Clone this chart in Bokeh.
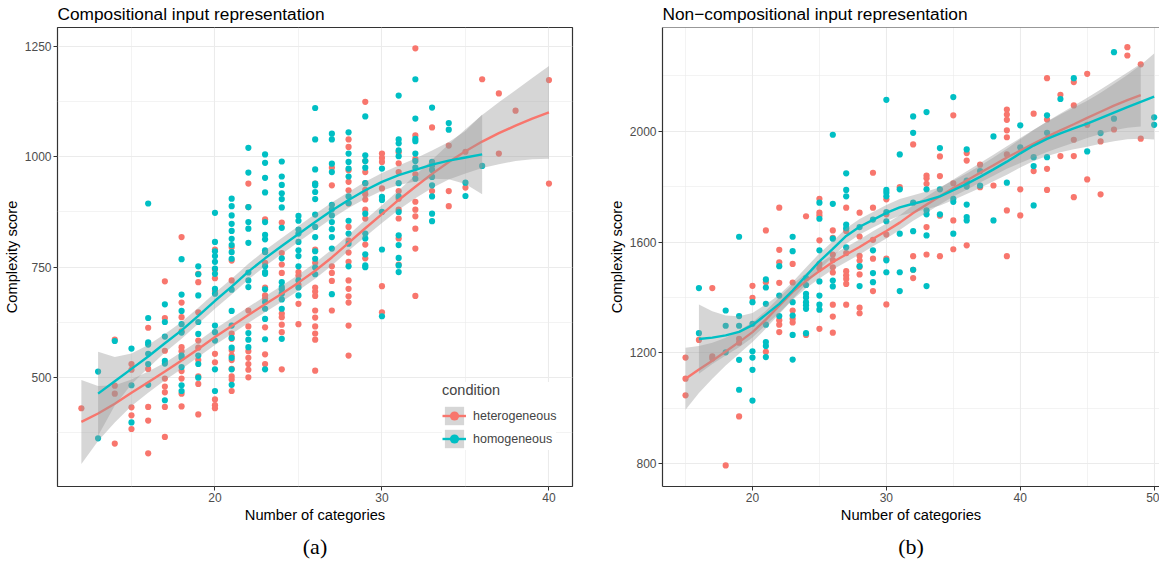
import numpy as np
from bokeh.plotting import figure
from bokeh.models import (FixedTicker, Legend, LegendItem, Range1d, Span, Title)
from bokeh.layouts import row
from bokeh.embed import file_html
from bokeh.resources import INLINE

RED = "#F8766D"
TEAL = "#00BFC4"
RIBBON = "#999999"
FONT = "Liberation Sans"

# ---------------- Panel (a): Compositional input representation ----------------
comp_het = {
    12: [431],
    14: [586, 482, 464, 351],
    15: [531, 518, 433, 415, 384],
    16: [613, 520, 434, 403, 329],
    17: [718, 635, 561, 498, 480, 467, 434, 366],
    18: [818, 670, 637, 605, 569, 560, 515, 498, 464, 435],
    19: [735, 716, 648, 584, 568, 540, 503, 486, 417],
    20: [790, 745, 725, 696, 554, 535, 451, 438, 431],
    21: [795, 765, 720, 600, 588, 562, 550, 540, 520, 503, 496, 470],
    22: [939, 886, 652, 616, 560, 545, 531, 518, 501],
    23: [858, 760, 704, 686, 679, 614, 553, 531],
    24: [851, 782, 756, 737, 645, 637, 620, 603, 519],
    25: [739, 731, 710, 667, 621],
    26: [939, 790, 760, 704, 695, 685, 652, 636, 616, 600, 586, 516],
    27: [975, 935, 752, 737, 719, 652],
    28: [1039, 1022, 969, 943, 924, 894, 841, 810, 783, 762, 720, 701, 684, 670, 618, 550],
    29: [1124, 990, 965, 940, 925, 915, 903, 880, 860, 801, 770],
    30: [1007, 997, 988, 928, 707, 648],
    31: [1010, 985, 965, 922, 905, 880, 860, 815, 756],
    32: [1245, 1048, 995, 960, 898, 880, 865, 837, 792, 685],
    33: [1066, 922],
    34: [1025, 922, 888],
    35: [1011, 930],
    36: [1175],
    37: [1143, 1007],
    38: [1104],
    40: [1173, 939],
}
comp_hom = {
    13: [514, 363],
    14: [583],
    15: [566, 483, 399],
    16: [894, 635, 580, 575, 554, 531, 484],
    17: [666, 626, 593, 538, 532, 449],
    18: [768, 688, 651, 621, 602, 550, 545, 524, 483, 470],
    19: [752, 734, 686, 626, 599, 550, 531, 500],
    20: [873, 807, 786, 775, 762, 747, 735, 701, 690, 618, 603, 584, 519, 470],
    21: [905, 888, 867, 848, 832, 814, 800, 784, 769, 699, 651, 618, 590, 568, 545, 519, 484],
    22: [1020, 964, 886, 852, 837, 805, 738, 720, 705, 601, 586, 569],
    23: [1005, 986, 952, 919, 852, 823, 813, 788, 784, 752, 739, 735, 700, 671, 656, 633, 587, 519],
    24: [989, 955, 936, 917, 904, 885, 839, 770, 716, 705, 700, 690, 677, 656, 588],
    25: [866, 855, 835, 826, 807, 788, 775, 752, 720, 704, 686],
    26: [1110, 1039, 971, 939, 935, 920, 904, 869, 841, 818, 786, 769, 749, 734],
    27: [1052, 1039, 984, 965, 891, 881, 867, 852, 836, 818, 792, 689],
    28: [1055, 1007, 988, 973, 955, 910, 895, 855, 826, 803, 752],
    29: [1091, 1003, 990, 975, 940, 871, 826, 815, 779, 754, 750],
    30: [973, 909, 902, 875, 790, 639],
    31: [1138, 1039, 1030, 1014, 1001, 940, 910, 875, 822, 800, 771, 754, 739],
    32: [1175, 1086, 1040, 1035, 1007, 990, 975, 950],
    33: [1111, 988, 980, 970, 954, 935, 910, 871, 854],
    34: [1076, 1061],
    35: [941, 911],
    36: [979],
}
# loess fits and half-width of the confidence band
comp_het_fit_x = list(range(12, 41))
comp_het_fit = [400, 419, 441, 466, 490, 514, 539, 565, 592, 617, 642, 666, 690, 715,
                742, 772, 805, 838, 870, 902, 932, 961, 988, 1012, 1034, 1053, 1070, 1086, 1100]
comp_het_hw = [95, 62, 42, 30, 24, 20, 19, 18, 18, 18, 18, 18, 18, 18, 18, 18, 18, 19,
               20, 22, 26, 32, 40, 50, 60, 70, 80, 92, 105]
comp_hom_fit_x = list(range(13, 37))
comp_hom_fit = [464, 492, 520, 548, 578, 607, 640, 674, 706, 740, 770, 798, 825, 852,
                878, 902, 924, 943, 958, 970, 982, 991, 998, 1005]
comp_hom_hw = [95, 55, 35, 26, 21, 19, 18, 18, 18, 18, 18, 18, 18, 18, 18, 18, 19, 20,
               22, 26, 32, 42, 60, 90]

# ---------------- Panel (b): Non-compositional input representation ----------------
noncomp_het = {
    15: [1183, 1107, 1047],
    16: [1247],
    17: [1434, 1188, 1180],
    18: [794],
    19: [1251, 1237, 971],
    20: [1442, 1399],
    21: [1642, 1455, 1204],
    22: [1724, 1572, 1527, 1453, 1318, 1302, 1275],
    23: [1521, 1454, 1353, 1323, 1310],
    24: [1693, 1265],
    25: [1756, 1706, 1695, 1606, 1521, 1505, 1287],
    26: [1642, 1615, 1555, 1535, 1509, 1490, 1374, 1331, 1273],
    27: [1724, 1640, 1560, 1495, 1480, 1467, 1449, 1374],
    28: [1706, 1620, 1550, 1533, 1510, 1483, 1363, 1343],
    29: [1850, 1724, 1608, 1540, 1423],
    30: [1754, 1700, 1627, 1540, 1375],
    31: [1798],
    32: [1952, 1549, 1500, 1470],
    33: [1840, 1830, 1810, 1654, 1555],
    34: [1909, 1838, 1695, 1549],
    35: [2057, 1812, 1678, 1574],
    36: [1921, 1894, 1810, 1588],
    37: [1879, 1798],
    38: [1804],
    39: [2078, 2060, 2041, 2003, 1978, 1916, 1714, 1549],
    40: [1790, 1696],
    41: [2063, 1856],
    42: [2191, 2042, 1864, 1788],
    43: [2131, 1910],
    44: [2177, 2093, 1969, 1910, 1762],
    45: [2207, 2023, 1826],
    46: [1963, 1772],
    47: [2006],
    48: [2303, 2273],
    49: [2241, 1973],
}
noncomp_hom = {
    16: [1434, 1271],
    18: [1353, 1298, 1202],
    19: [1619, 1333, 1298, 1175, 1067],
    20: [1383, 1305, 1206, 1183, 1139, 1028],
    21: [1465, 1436, 1377, 1302, 1239, 1225, 1185],
    22: [1513, 1407, 1333],
    23: [1619, 1567, 1383, 1335, 1265, 1176],
    24: [1470, 1445, 1413, 1400, 1383, 1372, 1359, 1271],
    25: [1742, 1684, 1570, 1458, 1407, 1374, 1356],
    26: [1987, 1738, 1612, 1461, 1440],
    27: [1848, 1788, 1765, 1663, 1650, 1581],
    28: [1654, 1513, 1441],
    29: [1681, 1570, 1488, 1455],
    30: [2113, 1788, 1778, 1765, 1708, 1675, 1534, 1491],
    31: [1916, 1790, 1630, 1491, 1423],
    32: [2053, 1994, 1742, 1639, 1500],
    33: [2069, 1790, 1714, 1700, 1624, 1441],
    34: [1939, 1790, 1700],
    35: [2123, 1756, 1745, 1630],
    36: [1934, 1822, 1800, 1735, 1690, 1678],
    37: [1856, 1804],
    38: [1981, 1678],
    39: [1814],
    40: [2021, 1942],
    41: [1906, 1874, 1732],
    42: [2057, 1994, 1906],
    43: [2116],
    44: [2191],
    45: [1927],
    46: [1993],
    47: [2285, 2045],
    50: [2050, 2023],
}
noncomp_het_fit_x = list(range(15, 50))
noncomp_het_fit = [1107, 1140, 1172, 1205, 1239, 1275, 1320, 1370, 1420, 1460, 1495, 1528,
                   1555, 1582, 1612, 1640, 1670, 1705, 1735, 1765, 1795, 1822, 1850, 1877,
                   1905, 1930, 1955, 1980, 2003, 2025, 2048, 2070, 2092, 2112, 2130]
noncomp_het_hw = [112, 85, 65, 50, 42, 36, 32, 30, 28, 27, 27, 27, 27, 27, 27, 27, 27, 28,
                  29, 30, 31, 33, 35, 38, 41, 45, 50, 55, 61, 67, 73, 80, 89, 100, 113]
noncomp_hom_fit_x = list(range(16, 51))
noncomp_hom_fit = [1250, 1255, 1263, 1276, 1300, 1338, 1377, 1425, 1478, 1530, 1575, 1622,
                   1655, 1680, 1705, 1725, 1738, 1750, 1765, 1787, 1810, 1835, 1862, 1890,
                   1920, 1948, 1972, 1992, 2010, 2027, 2047, 2067, 2087, 2106, 2125]
noncomp_hom_hw = [125, 95, 72, 56, 44, 37, 33, 31, 30, 29, 28, 28, 28, 28, 29, 30, 31, 32,
                  33, 35, 37, 40, 43, 47, 51, 56, 62, 68, 75, 83, 92, 103, 116, 133, 155]

# axis ticks
comp_xticks = [20, 30, 40]
comp_yticks = [500, 750, 1000, 1250]
noncomp_xticks = [20, 30, 40, 50]
noncomp_yticks = [800, 1200, 1600, 2000]

titles = ["Compositional input representation", "Non\u2212compositional input representation"]
captions = ["(a)", "(b)"]


def flatten(d):
    xs, ys = [], []
    for k, vals in d.items():
        for v in vals:
            xs.append(k)
            ys.append(v)
    return xs, ys


def minor_of(ticks):
    step = ticks[1] - ticks[0]
    return [ticks[0] - step / 2] + [t + step / 2 for t in ticks]


def style(p, xticks, yticks, title, cap, cap_offset):
    p.xaxis.ticker = FixedTicker(ticks=xticks, minor_ticks=minor_of(xticks))
    p.yaxis.ticker = FixedTicker(ticks=yticks, minor_ticks=minor_of(yticks))
    for ax in (p.xaxis[0], p.yaxis[0]):
        ax.major_label_text_font = FONT
        ax.major_label_text_font_size = "12px"
        ax.major_label_text_color = "#4D4D4D"
        ax.axis_label_text_font = FONT
        ax.axis_label_text_font_size = "14.7px"
        ax.axis_label_text_font_style = "normal"
        ax.axis_label_text_color = "black"
        ax.major_tick_line_color = "#333333"
        ax.major_tick_out = 4
        ax.major_tick_in = 0
        ax.minor_tick_line_color = None
        ax.major_label_standoff = 2
        ax.axis_label_standoff = 2
    p.xaxis.axis_label = "Number of categories"
    p.yaxis.axis_label = "Complexity score"
    for g in (p.xgrid[0], p.ygrid[0]):
        g.grid_line_color = "#EBEBEB"
        g.grid_line_width = 1.1
        g.minor_grid_line_color = "#EBEBEB"
        g.minor_grid_line_width = 0.6
    p.background_fill_color = "white"
    p.border_fill_color = "white"
    p.title.text = title
    p.title.text_font = FONT
    p.title.text_font_size = "17.3px"
    p.title.text_font_style = "normal"
    p.title.text_color = "black"
    p.title.vertical_align = "top"
    p.title.standoff = 3
    p.title.offset = 0
    c = Title(text=cap, align="center", offset=cap_offset, standoff=12,
              text_font="Liberation Serif", text_font_size="22px",
              text_font_style="normal", text_color="black")
    p.add_layout(c, "below")


def draw(p, het, hom, het_fx, het_f, het_hw, hom_fx, hom_f, hom_hw):
    hx, hy = flatten(het)
    ox, oy = flatten(hom)
    pts_r = p.scatter(hx, hy, size=6.2, fill_color=RED, line_color=None)
    pts_t = p.scatter(ox, oy, size=6.2, fill_color=TEAL, line_color=None)
    hf = np.array(het_f, float); hw = np.array(het_hw, float)
    of = np.array(hom_f, float); ow = np.array(hom_hw, float)
    band_r = p.varea(x=het_fx, y1=hf - hw, y2=hf + hw, fill_color=RIBBON, fill_alpha=0.4)
    line_r = p.line(het_fx, hf, line_color=RED, line_width=2.4)
    band_t = p.varea(x=hom_fx, y1=of - ow, y2=of + ow, fill_color=RIBBON, fill_alpha=0.4)
    line_t = p.line(hom_fx, of, line_color=TEAL, line_width=2.4)
    return (band_r, line_r, pts_r), (band_t, line_t, pts_t)


# ---------------- figure (a) ----------------
p1 = figure(frame_width=515, frame_height=459, output_backend="svg", toolbar_location=None,
            x_range=Range1d(10.57, 41.41), y_range=Range1d(254, 1292),
            min_border_left=52, min_border_right=33, min_border_top=27,
            min_border_bottom=70)
style(p1, comp_xticks, comp_yticks, titles[0], captions[0], -25)
p1.outline_line_color = "#333333"
p1.outline_line_width = 1.2
p1.xaxis.axis_line_color = None
p1.yaxis.axis_line_color = None
r_het, r_hom = draw(p1, comp_het, comp_hom, comp_het_fit_x, comp_het_fit, comp_het_hw,
                    comp_hom_fit_x, comp_hom_fit, comp_hom_hw)
legend = Legend(items=[LegendItem(label="heterogeneous", renderers=list(r_het)),
                       LegendItem(label="homogeneous", renderers=list(r_hom))],
                title="condition", location=(385, 36))
legend.title_text_font = FONT
legend.title_text_font_size = "14.5px"
legend.title_text_font_style = "normal"
legend.label_text_font = FONT
legend.label_text_font_size = "12.5px"
legend.glyph_width = 24
legend.glyph_height = 23
legend.label_height = 23
legend.spacing = 0
legend.padding = 7
legend.margin = 0
legend.label_standoff = 7
legend.title_standoff = 6
legend.background_fill_color = "white"
legend.background_fill_alpha = 1
legend.border_line_color = None
p1.add_layout(legend, "center")

# ---------------- figure (b) ----------------
p2 = figure(frame_width=497, frame_height=459, output_backend="svg", toolbar_location=None,
            x_range=Range1d(13.28, 50.40), y_range=Range1d(718, 2374),
            min_border_left=54, min_border_right=0, min_border_top=27,
            min_border_bottom=70)
style(p2, noncomp_xticks, noncomp_yticks, titles[1], captions[1], -17)
p2.outline_line_color = None
p2.xaxis.axis_line_color = "#333333"
p2.yaxis.axis_line_color = "#333333"
p2.xaxis.axis_line_width = 1.2
p2.yaxis.axis_line_width = 1.2
p2.add_layout(Span(location=2374, dimension="width", line_color="#333333", line_width=1.2))
draw(p2, noncomp_het, noncomp_hom, noncomp_het_fit_x, noncomp_het_fit, noncomp_het_hw,
     noncomp_hom_fit_x, noncomp_hom_fit, noncomp_hom_hw)

layout = row(p1, p2)
open("out.html", "w").write(file_html(layout, INLINE))
